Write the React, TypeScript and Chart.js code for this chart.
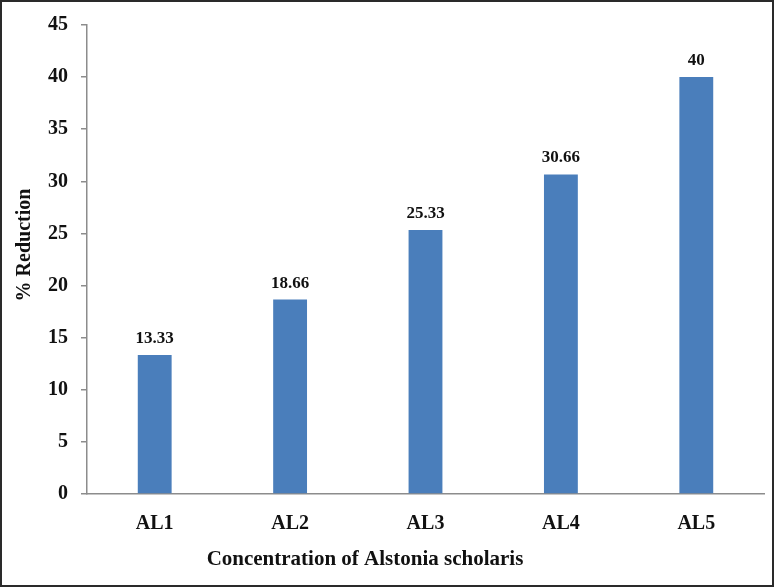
import React, { useEffect, useRef } from "react";
import { Chart, registerables } from "chart.js";

Chart.register(...registerables);

const categories: string[] = ["AL1", "AL2", "AL3", "AL4", "AL5"];
const reductionValues: number[] = [13.33, 18.66, 25.33, 30.66, 40];
const valueLabels: string[] = ["13.33", "18.66", "25.33", "30.66", "40"];
const yTitle = "% Reduction";
const xTitle = "Concentration of Alstonia scholaris";

const FONT = "'Liberation Serif', 'Times New Roman', serif";

const dataLabelPlugin = {
  id: "dataLabels",
  afterDatasetsDraw(chart: any) {
    const ctx = chart.ctx;
    const meta = chart.getDatasetMeta(0);
    ctx.save();
    ctx.font = `bold 17px ${FONT}`;
    ctx.fillStyle = "#111";
    ctx.textAlign = "center";
    ctx.textBaseline = "alphabetic";
    meta.data.forEach((bar: any, i: number) => {
      ctx.fillText(valueLabels[i], bar.x, bar.y - 12);
    });
    ctx.restore();
  },
};

const axisTitlePlugin = {
  id: "axisTitles",
  afterDraw(chart: any) {
    const ctx = chart.ctx;
    ctx.save();
    ctx.fillStyle = "#111";
    ctx.textAlign = "center";
    ctx.textBaseline = "middle";
    ctx.font = `bold 20px ${FONT}`;
    ctx.translate(25, 245);
    ctx.rotate(-Math.PI / 2);
    ctx.fillText(yTitle, 0, 0);
    ctx.restore();
    ctx.save();
    ctx.fillStyle = "#111";
    ctx.textAlign = "center";
    ctx.textBaseline = "middle";
    ctx.font = `bold 21px ${FONT}`;
    ctx.fillText(xTitle, 365, 560);
    ctx.restore();
  },
};

export default function App() {
  const canvasRef = useRef<HTMLCanvasElement | null>(null);

  useEffect(() => {
    if (!canvasRef.current) return;
    const chart = new Chart(canvasRef.current, {
      type: "bar",
      data: {
        labels: categories,
        datasets: [
          {
            data: reductionValues,
            backgroundColor: "#4a7ebb",
            borderWidth: 0,
            barPercentage: 0.25,
            categoryPercentage: 1,
          },
        ],
      },
      options: {
        animation: false,
        responsive: false,
        maintainAspectRatio: false,
        layout: { padding: { left: 0, right: 10, top: 25, bottom: 0 } },
        plugins: {
          legend: { display: false },
          tooltip: { enabled: false },
        },
        scales: {
          x: {
            grid: { display: false },
            border: { display: true, color: "#8c8c8c", width: 1.5 },
            ticks: {
              color: "#111",
              padding: 10,
              font: { family: FONT, size: 20, weight: "bold" },
            },
            afterFit: (scale: any) => {
              scale.height = 93;
            },
          },
          y: {
            min: 0,
            max: 45,
            ticks: {
              stepSize: 5,
              color: "#111",
              padding: 13,
              font: { family: FONT, size: 20, weight: "bold" },
            },
            grid: {
              display: true,
              drawOnChartArea: false,
              drawTicks: true,
              tickLength: 6,
              color: "#8c8c8c",
              lineWidth: 1.5,
            },
            border: { display: true, color: "#8c8c8c", width: 1.5 },
            afterFit: (scale: any) => {
              scale.width = 87;
            },
          },
        },
      },
      plugins: [dataLabelPlugin, axisTitlePlugin],
    } as any);
    return () => chart.destroy();
  }, []);

  return (
    <div
      style={{
        position: "fixed",
        left: 0,
        top: 0,
        width: 774,
        height: 587,
        background: "#fff",
        boxSizing: "border-box",
      }}
    >
      <canvas ref={canvasRef} width={774} height={587} style={{ display: "block" }} />
      <div
        style={{
          position: "absolute",
          inset: 0,
          border: "2px solid #2a2a2a",
          boxSizing: "border-box",
          pointerEvents: "none",
        }}
      />
    </div>
  );
}
